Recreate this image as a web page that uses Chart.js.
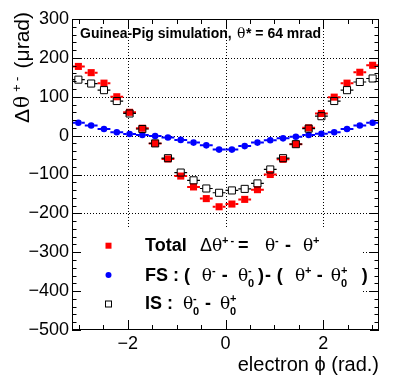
<!DOCTYPE html>
<html>
<head>
<meta charset="utf-8">
<script src="https://cdn.jsdelivr.net/npm/chart.js@4.4.1/dist/chart.umd.min.js"></script>
<style>
  html, body { margin: 0; padding: 0; background: #fff; }
  #wrap { width: 399px; height: 384px; position: relative; }
</style>
</head>
<body>
<div id="wrap"><canvas id="c" width="399" height="384"></canvas></div>
<script>
// ---- data ----
const phiCenters = [-3.011, -2.749, -2.487, -2.225, -1.963, -1.702, -1.440, -1.178, -0.916, -0.654, -0.393, -0.131,
                     0.131, 0.393, 0.654, 0.916, 1.178, 1.440, 1.702, 1.963, 2.225, 2.487, 2.749, 3.011];
const binHalfWidth = 0.131;
const totalVals = [178, 162, 135, 100, 60, 19, -20, -60, -104, -132, -162, -183,
                   -176, -164, -139, -100, -61, -22, 20, 57, 99, 135, 163, 181];
const fsVals = [33, 26, 17, 8.5, 4, 1.5, -1, -5, -11, -18, -25, -36,
                -36, -27, -18, -12, -7, -3, 1.5, 5, 8.5, 17, 26, 33];
const isVals = [144, 134, 117, 89, 57, 17, -20, -58, -95, -115, -136, -147,
                -141, -137, -123, -87, -58, -22, 18, 50, 89, 117, 138, 147];
const xTickLabels = [-2, 0, 2];
const yTickLabels = [-500, -400, -300, -200, -100, 0, 100, 200, 300];
const xRange = [-Math.PI, Math.PI];
const yRange = [-500, 300];

const RED = '#ff0000', BLUE = '#0000ff', BLACK = '#000000';
const SANS = '"Liberation Sans", Arial, sans-serif';
const SERIF = '"DejaVu Serif", "Liberation Serif", serif';

function pts(vals) { return phiCenters.map((x, i) => ({ x: x, y: vals[i] })); }
function minus(v) { return String(v).replace('-', '\u2212'); }

function drawSegs(ctx, x0, y0, segs) {
  segs.forEach(s => {
    ctx.font = s.f;
    ctx.textAlign = s.a || 'left';
    ctx.textBaseline = 'alphabetic';
    ctx.fillText(s.t, x0 + s.x, y0 + (s.dy || 0));
  });
}

const B18 = 'bold 18px ' + SANS, G18 = '17px ' + SERIF, D18 = '18px ' + SANS, S11 = 'bold 11px ' + SANS;

const frPlugin = {
  id: 'rootStyle',
  beforeDatasetsDraw(chart) {
    const ctx = chart.ctx, a = chart.chartArea;
    const xs = chart.scales.x, ys = chart.scales.y;
    ctx.save();
    // dotted grid
    ctx.strokeStyle = '#000';
    ctx.lineWidth = 1;
    ctx.setLineDash([1, 2]);
    yTickLabels.forEach(v => {
      if (v <= yRange[0] || v >= yRange[1]) return;
      const y = Math.round(ys.getPixelForValue(v)) + 0.5;
      ctx.beginPath(); ctx.moveTo(a.left, y); ctx.lineTo(a.right, y); ctx.stroke();
    });
    xTickLabels.forEach(v => {
      const x = Math.round(xs.getPixelForValue(v)) + 0.5;
      ctx.beginPath(); ctx.moveTo(x, a.top); ctx.lineTo(x, a.bottom); ctx.stroke();
    });
    ctx.setLineDash([]);
    // legend box (white, no border)
    ctx.fillStyle = '#fff';
    ctx.fillRect(a.left + 1, 228, 363 - a.left - 1, a.bottom - 228 - 1);
    // horizontal error bars
    chart.data.datasets.forEach((ds, di) => {
      const meta = chart.getDatasetMeta(di);
      ctx.strokeStyle = ds.barColor;
      ctx.lineWidth = ds.barWidth;
      ds.data.forEach((p, i) => {
        const xl = xs.getPixelForValue(p.x - binHalfWidth);
        const xr = xs.getPixelForValue(p.x + binHalfWidth);
        const el = meta.data[i];
        const gap = ds.gap;
        ctx.beginPath();
        ctx.moveTo(xl, el.y); ctx.lineTo(el.x - gap, el.y);
        ctx.moveTo(el.x + gap, el.y); ctx.lineTo(xr, el.y);
        ctx.stroke();
      });
    });
    ctx.restore();
  },
  afterDatasetsDraw(chart) {
    const ctx = chart.ctx, a = chart.chartArea;
    const xs = chart.scales.x, ys = chart.scales.y;
    ctx.save();
    ctx.strokeStyle = '#000';
    ctx.lineWidth = 1;
    // frame
    ctx.strokeRect(a.left + 0.5, a.top + 0.5, a.right - a.left - 1, a.bottom - a.top - 1);
    // y ticks (left & right)
    ctx.beginPath();
    for (let v = yRange[0]; v <= yRange[1]; v += 20) {
      const y = Math.round(ys.getPixelForValue(v)) + 0.5;
      const len = (v % 100 === 0) ? 9 : 4.5;
      ctx.moveTo(a.left, y); ctx.lineTo(a.left + len, y);
      ctx.moveTo(a.right, y); ctx.lineTo(a.right - len, y);
    }
    // x ticks (bottom & top)
    for (let v = -3; v <= 3; v += 0.5) {
      const x = Math.round(xs.getPixelForValue(v)) + 0.5;
      const len = (xTickLabels.indexOf(v) >= 0) ? 10 : 5;
      ctx.moveTo(x, a.bottom); ctx.lineTo(x, a.bottom - len);
      ctx.moveTo(x, a.top); ctx.lineTo(x, a.top + len);
    }
    ctx.stroke();

    ctx.fillStyle = '#000';
    // top label
    drawSegs(ctx, 80, 38, [
      { t: 'Guinea-Pig simulation,', x: 0, f: 'bold 14px ' + SANS },
      { t: '\u03b8', x: 157, f: '14px ' + SERIF },
      { t: '* = 64 mrad', x: 166, f: 'bold 14px ' + SANS }
    ]);

    // x axis title
    ctx.font = '20px ' + SANS;
    ctx.textAlign = 'right';
    ctx.fillText('electron \u03d5 (rad.)', a.right, 371);

    // y axis title (rotated)
    ctx.save();
    ctx.translate(28.5, 123);
    ctx.rotate(-Math.PI / 2);
    drawSegs(ctx, 0, 0, [
      { t: '\u0394', x: 0, f: '21px ' + SANS },
      { t: '\u03b8', x: 15, f: '20px ' + SERIF },
      { t: '+', x: 31, dy: -8, f: '13px ' + SANS },
      { t: '-', x: 42, dy: -8, f: '13px ' + SANS },
      { t: '(\u03bcrad)', x: 111, a: 'right', f: '21px ' + SANS }
    ]);
    ctx.restore();

    // legend markers
    const mx = 108.5;
    ctx.fillStyle = RED;
    ctx.fillRect(mx - 3, 245.7 - 3, 6, 6);
    ctx.fillStyle = BLUE;
    ctx.beginPath(); ctx.arc(mx, 275, 3, 0, Math.PI * 2); ctx.fill();
    ctx.strokeStyle = BLACK; ctx.lineWidth = 1;
    ctx.strokeRect(mx - 3, 304 - 3, 6, 6);

    // legend text
    ctx.fillStyle = '#000';
    const L = 145;
    drawSegs(ctx, L, 251, [
      { t: 'Total', x: 0, f: B18 },
      { t: '\u0394', x: 55, f: D18 },
      { t: '\u03b8', x: 67, f: G18 },
      { t: '+', x: 77, dy: -7, f: S11 },
      { t: '-', x: 85.5, dy: -7, f: S11 },
      { t: '=', x: 93, f: B18 },
      { t: '\u03b8', x: 120, f: G18 },
      { t: '-', x: 130, dy: -7, f: S11 },
      { t: '-', x: 140, f: B18 },
      { t: '\u03b8', x: 158, f: G18 },
      { t: '+', x: 168, dy: -7, f: S11 }
    ]);
    drawSegs(ctx, L, 281, [
      { t: 'FS : (', x: 0, f: B18 },
      { t: '\u03b8', x: 56.7, f: G18 },
      { t: '-', x: 67, dy: -7, f: S11 },
      { t: '-', x: 76.7, f: B18 },
      { t: '\u03b8', x: 93, f: G18 },
      { t: '-', x: 103, dy: -7, f: S11 },
      { t: '0', x: 103, dy: 5.5, f: S11 },
      { t: ')', x: 113, f: B18 },
      { t: '-', x: 120, f: B18 },
      { t: '(', x: 131.7, f: B18 },
      { t: '\u03b8', x: 150, f: G18 },
      { t: '+', x: 160, dy: -7, f: S11 },
      { t: '-', x: 171.7, f: B18 },
      { t: '\u03b8', x: 185.7, f: G18 },
      { t: '+', x: 196, dy: -7, f: S11 },
      { t: '0', x: 196, dy: 5.5, f: S11 },
      { t: ')', x: 216.7, f: B18 }
    ]);
    drawSegs(ctx, L, 309, [
      { t: 'IS :', x: 0, f: B18 },
      { t: '\u03b8', x: 38, f: G18 },
      { t: '-', x: 48, dy: -7, f: S11 },
      { t: '0', x: 48, dy: 5.5, f: S11 },
      { t: '-', x: 60, f: B18 },
      { t: '\u03b8', x: 75, f: G18 },
      { t: '+', x: 85, dy: -7, f: S11 },
      { t: '0', x: 85, dy: 5.5, f: S11 }
    ]);
    ctx.restore();
  }
};

new Chart(document.getElementById('c'), {
  type: 'scatter',
  data: {
    datasets: [
      { label: 'Total', data: pts(totalVals), order: 3, pointStyle: 'rect', pointRadius: 5,
        backgroundColor: RED, borderColor: RED, borderWidth: 0,
        barColor: RED, barWidth: 2, gap: 3.5 },
      { label: 'FS', data: pts(fsVals), order: 2, pointStyle: 'circle', pointRadius: 3.3,
        backgroundColor: BLUE, borderColor: BLUE, borderWidth: 0,
        barColor: BLUE, barWidth: 2, gap: 3 },
      { label: 'IS', data: pts(isVals), order: 1, pointStyle: 'rect', pointRadius: 5,
        backgroundColor: 'rgba(0,0,0,0)', borderColor: BLACK, borderWidth: 1,
        barColor: BLACK, barWidth: 1.2, gap: 3.5 }
    ]
  },
  options: {
    responsive: false,
    animation: false,
    events: [],
    layout: { padding: { left: 0, right: 20, top: 19, bottom: 0 } },
    plugins: { legend: { display: false }, tooltip: { enabled: false } },
    scales: {
      x: {
        type: 'linear', min: xRange[0], max: xRange[1],
        afterBuildTicks: s => { s.ticks = xTickLabels.map(v => ({ value: v })); },
        afterFit: s => { s.height = 54; },
        grid: { display: false, drawTicks: false },
        border: { display: false },
        ticks: { autoSkip: false, maxRotation: 0, padding: 3, color: '#000',
                 font: { family: 'Liberation Sans', size: 18 },
                 callback: v => minus(v) }
      },
      y: {
        type: 'linear', min: yRange[0], max: yRange[1],
        afterBuildTicks: s => { s.ticks = yTickLabels.map(v => ({ value: v })); },
        afterFit: s => { s.width = 72; },
        grid: { display: false, drawTicks: false },
        border: { display: false },
        ticks: { autoSkip: false, padding: 3, color: '#000',
                 font: { family: 'Liberation Sans', size: 18 },
                 callback: v => minus(v) }
      }
    }
  },
  plugins: [frPlugin]
});
</script>
</body>
</html>
